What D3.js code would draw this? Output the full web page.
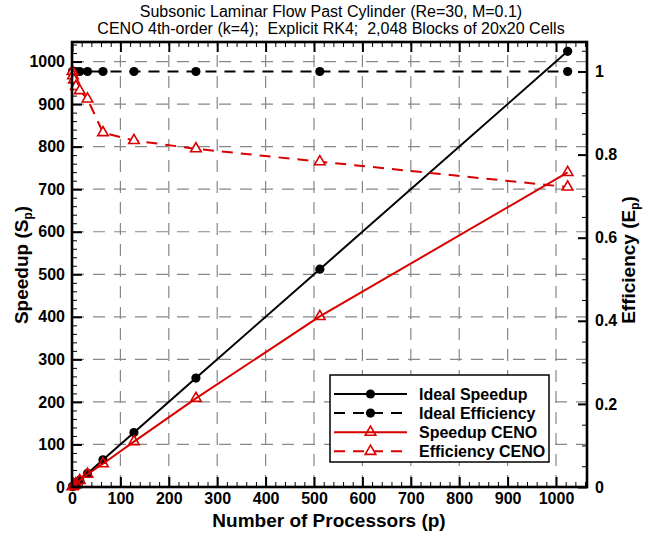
<!DOCTYPE html>
<html>
<head>
<meta charset="utf-8">
<script src="https://cdn.jsdelivr.net/npm/d3@7"></script>
<style>
  html, body { margin: 0; padding: 0; background: #fff; }
  svg { display: block; font-family: "Liberation Sans", Arial, Helvetica, sans-serif; }
  .pre { white-space: pre; }
</style>
</head>
<body>
<svg id="chart" width="647" height="534"></svg>
<script>
// ---------------- data ----------------
const processors     = [1, 2, 4, 8, 16, 32, 64, 128, 256, 512, 1024];
const idealSpeedup   = [1, 2, 4, 8, 16, 32, 64, 128, 256, 512, 1024];
const idealEff       = [1, 1, 1, 1, 1, 1, 1, 1, 1, 1, 1];
const cenoSpeedup    = [1.0, 1.98, 3.92, 7.7, 15.3, 29.9, 54.6, 106.8, 208.4, 400.9, 739.5];
const cenoEff        = [1.0, 0.99, 0.98, 0.964, 0.954, 0.934, 0.853, 0.834, 0.814, 0.783, 0.722];
const xTicks         = [0, 100, 200, 300, 400, 500, 600, 700, 800, 900, 1000];
const ySpeedTicks    = [0, 100, 200, 300, 400, 500, 600, 700, 800, 900, 1000];
const yEffTicks      = [0, 0.2, 0.4, 0.6, 0.8, 1];
const titleLines     = ["Subsonic Laminar Flow Past Cylinder (Re=30, M=0.1)",
                        "CENO 4th-order (k=4);  Explicit RK4;  2,048 Blocks of 20x20 Cells"];
const legendLabels   = ["Ideal Speedup", "Ideal Efficiency", "Speedup CENO", "Efficiency CENO"];

// ---------------- layout ----------------
const svg = d3.select("#chart");
const L = 72, R = 587, T = 42, B = 487;
const RED = "#d90000";

const x  = d3.scaleLinear().domain([0, 1064]).range([L, R]);
const yS = d3.scaleLinear().domain([0, 1046]).range([B, T]);
const yE = d3.scaleLinear().domain([0, 1.071]).range([B, T]);

const xMinor  = d3.range(0, 1061, 20).filter(v => v % 100 !== 0);
const ySMinor = d3.range(0, 1046, 20).filter(v => v % 100 !== 0);
const yEMinor = d3.range(0, 1.071, 0.05).map(v => +v.toFixed(2)).filter(v => Math.abs(v*5 - Math.round(v*5)) > 1e-6);

// grid (dashed gray at major speedup / processor ticks)
const grid = svg.append("g").attr("stroke", "#888").attr("stroke-width", 1.2)
  .attr("stroke-dasharray", "12,9");
grid.selectAll(".gx").data(xTicks.filter(v => v > 0)).join("line")
  .attr("x1", d => x(d)).attr("x2", d => x(d)).attr("y1", B).attr("y2", T);
grid.selectAll(".gy").data(ySpeedTicks.filter(v => v > 0)).join("line")
  .attr("y1", d => yS(d)).attr("y2", d => yS(d)).attr("x1", L).attr("x2", R);

// ---------------- axes ----------------
function styleAxis(g, fs) {
  g.select(".domain").remove();
  g.selectAll("text").attr("font-size", fs).attr("font-weight", "bold")
    .attr("font-family", "'Liberation Sans', Arial, sans-serif").attr("fill", "#000");
  g.selectAll("line").attr("stroke", "#000");
}
// bottom
svg.append("g").attr("transform", `translate(0,${B})`)
  .call(d3.axisBottom(x).tickValues(xTicks).tickSize(-10).tickSizeOuter(0).tickPadding(6).tickFormat(d3.format("d")))
  .call(g => { styleAxis(g, 16); g.selectAll("line").attr("stroke-width", 2); });
svg.append("g").attr("transform", `translate(0,${B})`)
  .call(d3.axisBottom(x).tickValues(xMinor).tickSize(-5).tickSizeOuter(0).tickFormat(""))
  .call(g => { styleAxis(g, 16); g.selectAll("line").attr("stroke-width", 1); });
// top
svg.append("g").attr("transform", `translate(0,${T})`)
  .call(d3.axisTop(x).tickValues(xTicks).tickSize(-10).tickSizeOuter(0).tickFormat(""))
  .call(g => { styleAxis(g, 16); g.selectAll("line").attr("stroke-width", 2); });
svg.append("g").attr("transform", `translate(0,${T})`)
  .call(d3.axisTop(x).tickValues(xMinor).tickSize(-5).tickSizeOuter(0).tickFormat(""))
  .call(g => { styleAxis(g, 16); g.selectAll("line").attr("stroke-width", 1); });
// left (speedup)
svg.append("g").attr("transform", `translate(${L},0)`)
  .call(d3.axisLeft(yS).tickValues(ySpeedTicks).tickSize(-10).tickSizeOuter(0).tickPadding(7).tickFormat(d3.format("d")))
  .call(g => { styleAxis(g, 16); g.selectAll("line").attr("stroke-width", 2); });
svg.append("g").attr("transform", `translate(${L},0)`)
  .call(d3.axisLeft(yS).tickValues(ySMinor).tickSize(-5).tickSizeOuter(0).tickFormat(""))
  .call(g => { styleAxis(g, 16); g.selectAll("line").attr("stroke-width", 1); });
// right (efficiency)
svg.append("g").attr("transform", `translate(${R},0)`)
  .call(d3.axisRight(yE).tickValues(yEffTicks).tickSize(-9).tickSizeOuter(0).tickPadding(8).tickFormat(d => d === 0 || d === 1 ? d3.format("d")(d) : d3.format(".1f")(d)))
  .call(g => { styleAxis(g, 16); g.selectAll("line").attr("stroke-width", 2); });
svg.append("g").attr("transform", `translate(${R},0)`)
  .call(d3.axisRight(yE).tickValues(yEMinor).tickSize(-5).tickSizeOuter(0).tickFormat(""))
  .call(g => { styleAxis(g, 16); g.selectAll("line").attr("stroke-width", 1); });

// ---------------- series ----------------
const series = [
  { name: legendLabels[0], xs: processors, ys: idealSpeedup, scale: yS, color: "#000", dash: null,   marker: "circle" },
  { name: legendLabels[1], xs: processors, ys: idealEff,     scale: yE, color: "#000", dash: "11,8", marker: "circle" },
  { name: legendLabels[2], xs: processors, ys: cenoSpeedup,  scale: yS, color: RED,    dash: null,   marker: "tri" },
  { name: legendLabels[3], xs: processors, ys: cenoEff,      scale: yE, color: RED,    dash: "11,8", marker: "triOpen" }
];

const triPath = d3.symbol().type(d3.symbolTriangle).size(48)();
function drawMarker(sel, s) {
  if (s.marker === "circle") {
    sel.append("circle").attr("r", 4.6).attr("fill", s.color);
  } else {
    sel.append("path").attr("d", triPath)
      .attr("fill", s.marker === "triOpen" ? "#fff" : "none")
      .attr("stroke", s.color).attr("stroke-width", 1.6);
  }
}

const plot = svg.append("g");
series.forEach(s => {
  const pts = s.xs.map((p, i) => [x(p), s.scale(s.ys[i])]);
  plot.append("path").attr("d", d3.line()(pts))
    .attr("fill", "none").attr("stroke", s.color).attr("stroke-width", 2)
    .attr("stroke-dasharray", s.dash);
  pts.forEach(pt => {
    const g = plot.append("g").attr("transform", `translate(${pt[0]},${pt[1]})`);
    drawMarker(g, s);
  });
});

// frame
svg.append("rect").attr("x", L).attr("y", T).attr("width", R - L).attr("height", B - T)
  .attr("fill", "none").attr("stroke", "#000").attr("stroke-width", 2.6);

// ---------------- legend ----------------
const lg = svg.append("g");
lg.append("rect").attr("x", 330).attr("y", 375).attr("width", 219).attr("height", 87)
  .attr("fill", "#fff").attr("stroke", "#000").attr("stroke-width", 1.5);
series.forEach((s, i) => {
  const yy = 394 + i * 19.1;
  lg.append("line").attr("x1", 334).attr("x2", 407).attr("y1", yy).attr("y2", yy)
    .attr("stroke", s.color).attr("stroke-width", 2).attr("stroke-dasharray", s.dash);
  const g = lg.append("g").attr("transform", `translate(370.5,${yy})`);
  drawMarker(g, s);
  lg.append("text").attr("x", 419).attr("y", yy).attr("dy", "0.36em")
    .attr("font-size", 16).attr("font-weight", "bold").text(s.name);
});

// ---------------- titles ----------------
svg.append("g").selectAll("text").data(titleLines).join("text")
  .attr("class", "pre")
  .attr("x", 331).attr("y", (d, i) => 17 + i * 16.5)
  .attr("text-anchor", "middle").attr("font-size", 16).text(d => d);

svg.append("text").attr("x", 329).attr("y", 527).attr("text-anchor", "middle")
  .attr("font-size", 19).attr("font-weight", "bold").text("Number of Processors (p)");

const yl = svg.append("text").attr("transform", "translate(28,265) rotate(-90)")
  .attr("text-anchor", "middle").attr("font-size", 19).attr("font-weight", "bold");
yl.append("tspan").text("Speedup (S");
yl.append("tspan").attr("font-size", 12).attr("dy", 4).text("p");
yl.append("tspan").attr("dy", -4).text(")");

const yr = svg.append("text").attr("transform", "translate(635,260) rotate(-90)")
  .attr("text-anchor", "middle").attr("font-size", 19).attr("font-weight", "bold");
yr.append("tspan").text("Efficiency (E");
yr.append("tspan").attr("font-size", 12).attr("dy", 4).text("p");
yr.append("tspan").attr("dy", -4).text(")");
</script>
</body>
</html>
